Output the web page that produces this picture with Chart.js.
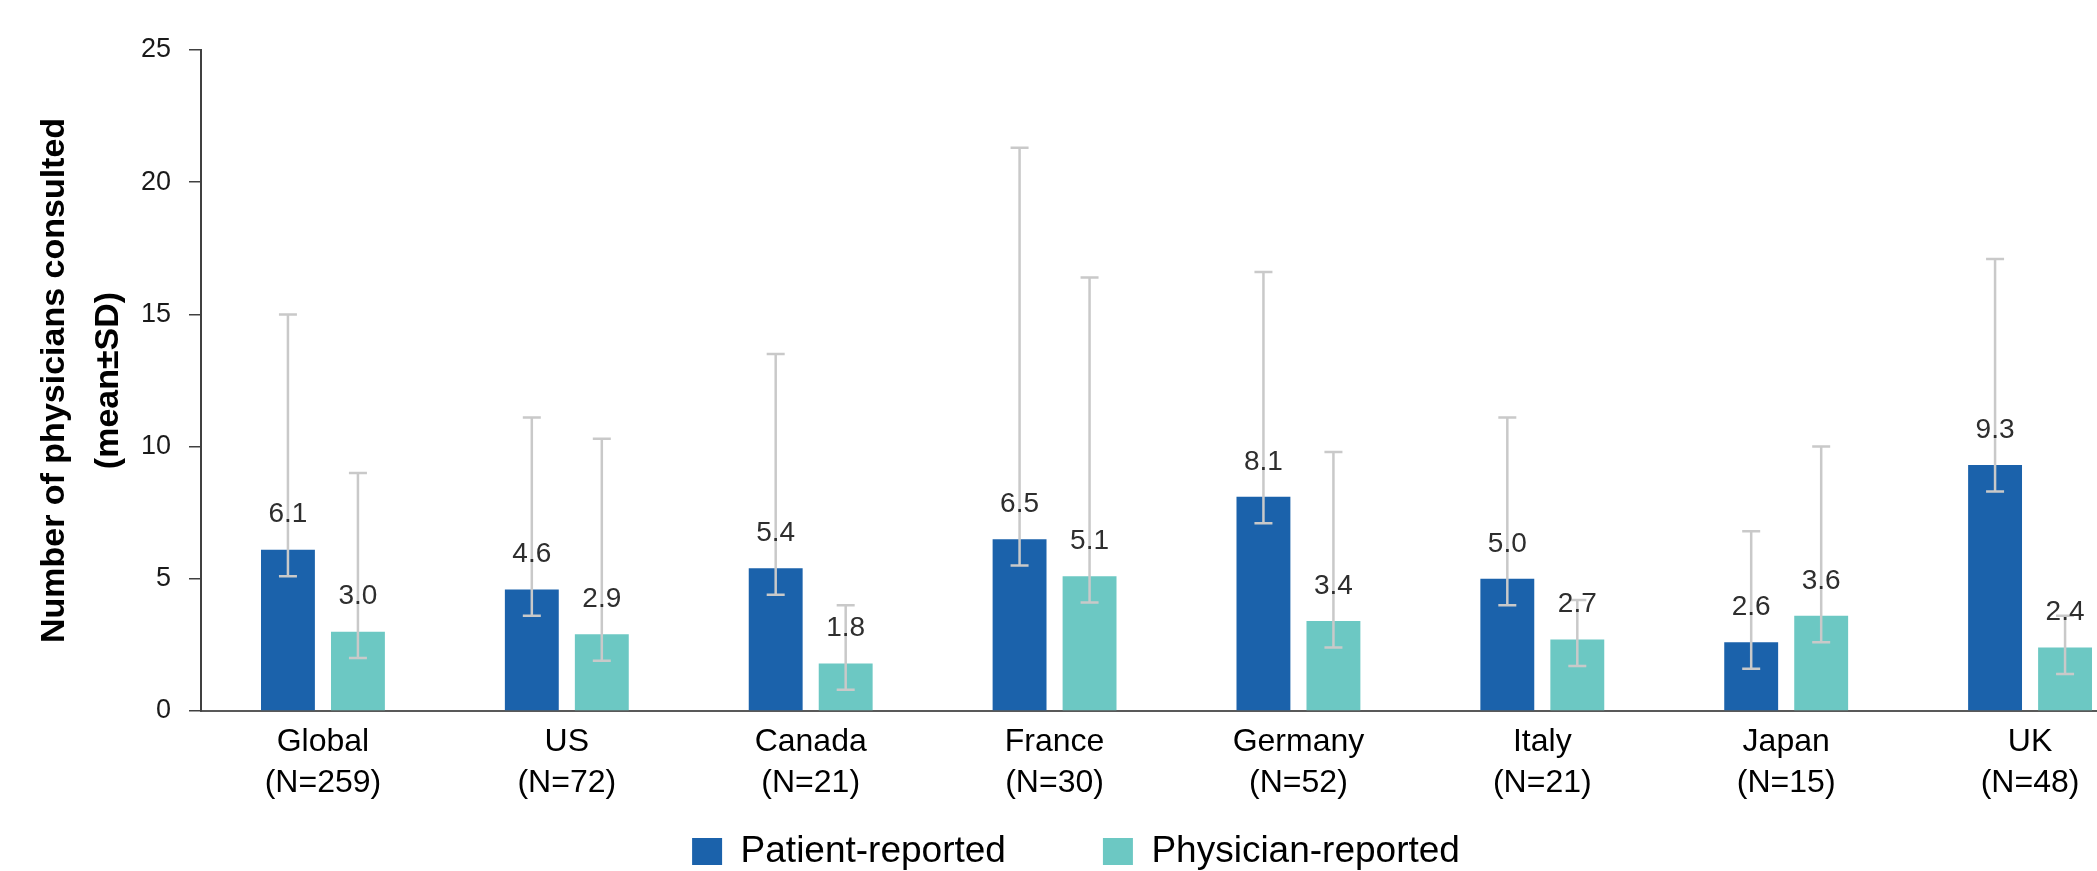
<!DOCTYPE html>
<html>
<head>
<meta charset="utf-8">
<script src="https://cdn.jsdelivr.net/npm/chart.js@4.4.1/dist/chart.umd.min.js"></script>
<style>
  html, body { margin: 0; padding: 0; background: #ffffff; overflow: hidden; }
  #wrap { width: 2160px; height: 871px; }
</style>
</head>
<body>
<div id="wrap"><canvas id="chart" width="2160" height="871"></canvas></div>
<script>
// Countries with sample sizes (two-line axis labels)
const categories = [
  ['Global', '(N=259)'],
  ['US', '(N=72)'],
  ['Canada', '(N=21)'],
  ['France', '(N=30)'],
  ['Germany', '(N=52)'],
  ['Italy', '(N=21)'],
  ['Japan', '(N=15)'],
  ['UK', '(N=48)']
];

// Mean number of physicians consulted
const patientMeans   = [6.1, 4.6, 5.4, 6.5, 8.1, 5.0, 2.6, 9.3];
const physicianMeans = [3.0, 2.9, 1.8, 5.1, 3.4, 2.7, 3.6, 2.4];

// Whisker ends (upper and lower caps)
const patientUpper   = [15.0, 11.1, 13.5, 21.3, 16.6, 11.1, 6.8, 17.1];
const patientLower   = [5.1, 3.6, 4.4, 5.5, 7.1, 4.0, 1.6, 8.3];
const physicianUpper = [9.0, 10.3, 4.0, 16.4, 9.8, 4.2, 10.0, 3.6];
const physicianLower = [2.0, 1.9, 0.8, 4.1, 2.4, 1.7, 2.6, 1.4];

const yTicks = [0, 5, 10, 15, 20, 25];

const seriesNames = ['Patient-reported', 'Physician-reported'];
const FONT = "'Liberation Sans', Arial, sans-serif";

const whiskers = [
  { upper: patientUpper, lower: patientLower },
  { upper: physicianUpper, lower: physicianLower }
];

// Error bars: vertical line with caps at each whisker end
const errorBarPlugin = {
  id: 'errorBars',
  afterDatasetsDraw(chart) {
    const ctx = chart.ctx;
    const y = chart.scales.y;
    ctx.save();
    ctx.strokeStyle = '#c9c9c9';
    ctx.lineWidth = 2.5;
    chart.data.datasets.forEach((ds, i) => {
      const meta = chart.getDatasetMeta(i);
      meta.data.forEach((bar, j) => {
        const x = bar.x;
        const yTop = y.getPixelForValue(whiskers[i].upper[j]);
        const yBot = y.getPixelForValue(whiskers[i].lower[j]);
        const cap = 9;
        ctx.beginPath();
        ctx.moveTo(x, yTop); ctx.lineTo(x, yBot);
        ctx.moveTo(x - cap, yTop); ctx.lineTo(x + cap, yTop);
        ctx.moveTo(x - cap, yBot); ctx.lineTo(x + cap, yBot);
        ctx.stroke();
      });
    });
    ctx.restore();
  }
};

// Value labels above each bar
const valueLabelPlugin = {
  id: 'valueLabels',
  afterDatasetsDraw(chart) {
    const ctx = chart.ctx;
    ctx.save();
    ctx.fillStyle = '#2e2e2e';
    ctx.font = '28px ' + FONT;
    ctx.textAlign = 'center';
    ctx.textBaseline = 'middle';
    chart.data.datasets.forEach((ds, i) => {
      const meta = chart.getDatasetMeta(i);
      meta.data.forEach((bar, j) => {
        ctx.fillText(ds.data[j].toFixed(1), bar.x, bar.y - 35);
      });
    });
    ctx.restore();
  }
};

// Legend row sits just above the bottom edge, below the category labels
const LEGEND_ROW_TOP = 736;
const legendPlacePlugin = {
  id: 'legendPlace',
  afterLayout(chart) {
    const lg = chart.legend;
    if (!lg) return;
    lg.top = LEGEND_ROW_TOP;
    lg.bottom = chart.height;
    lg.height = lg.bottom - lg.top;
  }
};

new Chart(document.getElementById('chart'), {
  type: 'bar',
  data: {
    labels: categories,
    datasets: [
      {
        label: seriesNames[0],
        data: patientMeans,
        backgroundColor: '#1b62ab',
        borderWidth: 0,
        categoryPercentage: 0.574,
        barPercentage: 0.77
      },
      {
        label: seriesNames[1],
        data: physicianMeans,
        backgroundColor: '#6cc8c3',
        borderWidth: 0,
        categoryPercentage: 0.574,
        barPercentage: 0.77
      }
    ]
  },
  options: {
    responsive: false,
    animation: false,
    devicePixelRatio: 1,
    layout: { padding: { top: 50, right: 8, bottom: 20, left: 0 } },
    plugins: {
      legend: {
        position: 'bottom',
        maxHeight: 40,
        labels: {
          boxWidth: 30,
          boxHeight: 27,
          padding: 97,
          color: '#000000',
          font: { family: FONT, size: 37 }
        }
      },
      tooltip: { enabled: false }
    },
    scales: {
      x: {
        grid: { display: false, drawTicks: false },
        border: { display: true, color: '#595959', width: 2 },
        ticks: {
          color: '#000000',
          font: { family: FONT, size: 32, lineHeight: 1.3 },
          padding: 10,
          maxRotation: 0,
          autoSkip: false
        },
        afterFit(scale) { scale.height = 100; }
      },
      y: {
        min: 0,
        max: 25,
        afterBuildTicks(scale) { scale.ticks = yTicks.map(v => ({ value: v })); },
        ticks: {
          color: '#1a1a1a',
          font: { family: FONT, size: 27 },
          padding: 18
        },
        grid: {
          drawOnChartArea: false,
          drawTicks: true,
          tickLength: 12,
          tickColor: '#404040',
          lineWidth: 1.5
        },
        border: { display: true, color: '#404040', width: 2 },
        title: {
          display: true,
          text: ['Number of physicians consulted', '(mean±SD)'],
          color: '#000000',
          font: { family: FONT, size: 34, weight: 'bold', lineHeight: 1.6 },
          padding: { top: 27, bottom: 0 }
        },
        afterFit(scale) { scale.width = 201; }
      }
    }
  },
  plugins: [errorBarPlugin, valueLabelPlugin, legendPlacePlugin]
});
</script>
</body>
</html>
